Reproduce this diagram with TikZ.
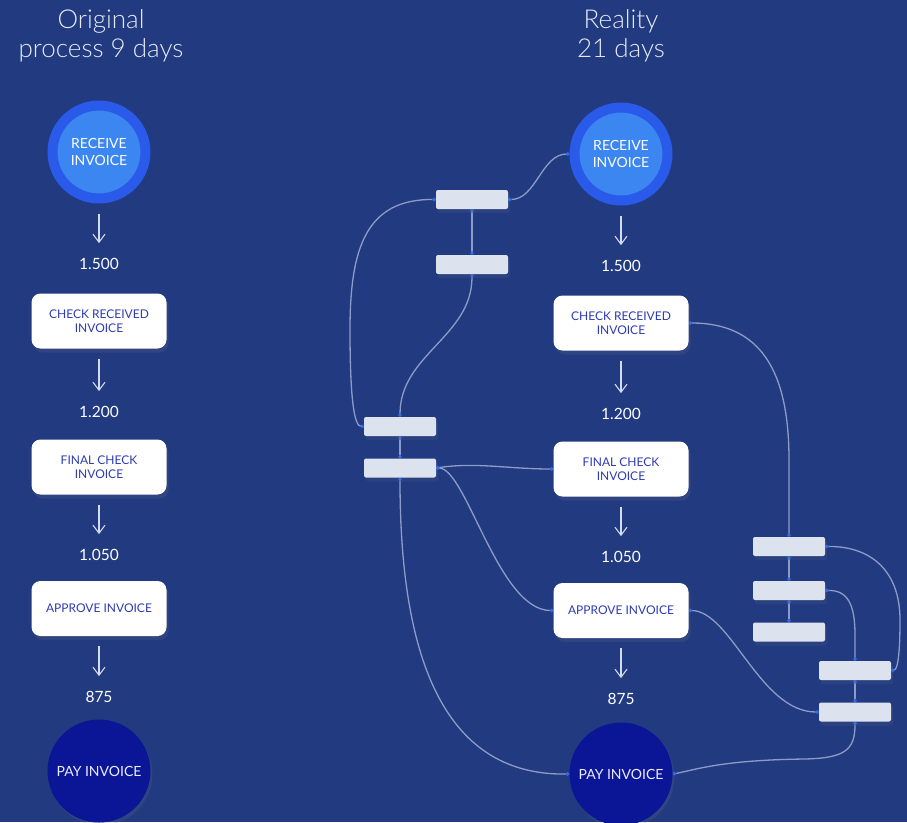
\documentclass[tikz,border=0pt]{standalone}
\usepackage{fontspec}
\setmainfont{Lato}
\newfontfamily\thinfont{Lato Light}
\usetikzlibrary{arrows.meta,shadows}

\definecolor{bgblue}{HTML}{213A80}
\definecolor{ringblue}{HTML}{2A5AE9}
\definecolor{coreblue}{HTML}{3B86F0}
\definecolor{payblue}{HTML}{0B1697}
\definecolor{boxtext}{HTML}{2E3BB4}
\definecolor{gategrey}{HTML}{DDE3EE}
\definecolor{linkgrey}{HTML}{8D9BC7}
\definecolor{arrowgrey}{HTML}{D5DCEF}
\definecolor{titlegrey}{HTML}{E6EAF4}
\definecolor{dotblue}{HTML}{2F6BEA}

\pgfdeclarelayer{bg}
\pgfdeclarelayer{links}
\pgfsetlayers{bg,links,main}

\begin{document}
\begin{tikzpicture}[x=1pt, y=-1pt,
    every node/.style={inner sep=0pt},
    title/.style={font=\thinfont\fontsize{26}{29}\selectfont, text=titlegrey, align=center},
    startnode/.style={circle, fill=coreblue, draw=ringblue, line width=10pt, minimum size=93pt,
        text=white, align=center, font=\fontsize{14}{16.5}\selectfont},
    endnode/.style={circle, fill=payblue, minimum size=103pt, text=white!92!blue,
        font=\fontsize{14}{16}\selectfont, drop shadow={opacity=0.15, shadow yshift=-3pt, shadow xshift=2pt}},
    taskbox/.style={rectangle, rounded corners=9pt, fill=white, minimum width=135pt, minimum height=55pt,
        text=boxtext, align=center, font=\fontsize{12}{14.5}\selectfont,
        drop shadow={opacity=0.15, shadow yshift=-4pt, shadow xshift=2pt}},
    gate/.style={rectangle, rounded corners=2pt, fill=gategrey, minimum width=72pt, minimum height=19pt,
        drop shadow={opacity=0.12, shadow yshift=-4pt, shadow xshift=2pt}},
    count/.style={text=white, font=\fontsize{15.5}{18}\selectfont},
    flow/.style={draw=arrowgrey, line width=1.1pt, -{Straight Barb[length=8pt,width=12pt]},
        shorten <=10pt, shorten >=15pt},
    link/.style={draw=linkgrey, line width=1.3pt,
        {Circle[length=3.5pt,color=dotblue]}-{Circle[length=3.5pt,color=dotblue]}}]

\begin{pgfonlayer}{bg}
\fill [bgblue] (0,0) rectangle (907,822);
\end{pgfonlayer}
\useasboundingbox (0,0) rectangle (907,822);

\node [title] (titleA) at (101,36) {Original\\process 9 days};
\node [title] (titleB) at (621,36) {Reality\\21 days};

\node [startnode] (recvA) at (99,152) {RECEIVE\\INVOICE};
\node [count] (cA1) at (99,264) {1.500};
\node [taskbox] (checkA) at (99,321) {CHECK RECEIVED\\INVOICE};
\node [count] (cA2) at (99,412) {1.200};
\node [taskbox] (finalA) at (99,467) {FINAL CHECK\\INVOICE};
\node [count] (cA3) at (99,555) {1.050};
\node [taskbox] (approveA) at (99,608.5) {APPROVE INVOICE};
\node [count] (cA4) at (99,697) {875};
\node [endnode] (payA) at (99,771) {PAY INVOICE};

\draw [flow] (recvA) -- (cA1);
\draw [flow] (checkA) -- (cA2);
\draw [flow] (finalA) -- (cA3);
\draw [flow] (approveA) -- (cA4);

\node [startnode] (recvB) at (621,154) {RECEIVE\\INVOICE};
\node [count] (cB1) at (621,266) {1.500};
\node [taskbox] (checkB) at (621,323) {CHECK RECEIVED\\INVOICE};
\node [count] (cB2) at (621,414) {1.200};
\node [taskbox] (finalB) at (621,469) {FINAL CHECK\\INVOICE};
\node [count] (cB3) at (621,557) {1.050};
\node [taskbox] (approveB) at (621,610.5) {APPROVE INVOICE};
\node [count] (cB4) at (621,699) {875};
\node [endnode] (payB) at (621,774) {PAY INVOICE};

\draw [flow] (recvB) -- (cB1);
\draw [flow] (checkB) -- (cB2);
\draw [flow] (finalB) -- (cB3);
\draw [flow] (approveB) -- (cB4);

\node [gate] (g1) at (472,199.5) {};
\node [gate] (g2) at (472,264.5) {};
\node [gate] (g3) at (400,426.5) {};
\node [gate] (g4) at (400,468) {};
\node [gate] (g5) at (789,546.5) {};
\node [gate] (g6) at (789,590.5) {};
\node [gate] (g7) at (789,632) {};
\node [gate] (g8) at (855,670.5) {};
\node [gate] (g9) at (855,712) {};

\begin{pgfonlayer}{links}
\draw [link] (recvB.west) .. controls +(-28,0) and +(28,0) .. (g1.east);
\draw [link] (g1.west) .. controls (365,199) and (350,250) .. (350,330) .. controls (350,405) and (355,426) .. (g3.west);
\draw [link] (g1.south) -- (g2.north);
\draw [link] (g2.south) to [out=-90, in=90] (g3.north);
\draw [link] (g3.south) -- (g4.north);
\draw [link] (g4.east) .. controls +(40,-6) and +(-45,0) .. (finalB.west);
\draw [link] (g4.east) .. controls +(30,0) and +(-55,0) .. (approveB.west);
\draw [link] (g4.south) .. controls (400,650) and (440,776) .. (payB.west);

\draw [link] (checkB.east) .. controls (760,323) and (789,370) .. (789,460) -- (g5.north);
\draw [link] (g5.south) -- (g6.north);
\draw [link] (g6.south) -- (g7.north);
\draw [link] (g5.east) .. controls (870,546) and (900,570) .. (900,620) .. controls (900,665) and (896,670) .. (g8.east);
\draw [link] (g6.east) .. controls (848,590) and (855,605) .. (855,635) -- (g8.north);
\draw [link] (g8.south) -- (g9.north);
\draw [link] (approveB.east) .. controls +(42,0) and +(-59,0) .. (g9.west);
\draw [link] (g9.south) .. controls (855,750) and (845,758) .. (805,759) .. controls (720,760) and (695,770) .. (payB.east);
\end{pgfonlayer}

\end{tikzpicture}
\end{document}
